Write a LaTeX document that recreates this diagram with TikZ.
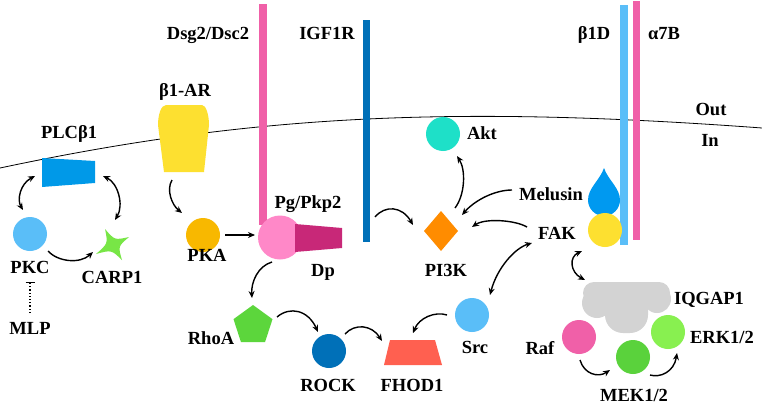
\documentclass[tikz,border=0pt]{standalone}
\usepackage{fontspec}
\setmainfont{Liberation Serif}
\usetikzlibrary{arrows.meta,shapes.geometric}
\definecolor{pinkbar}{RGB}{240,96,168}
\definecolor{darkblue}{RGB}{0,112,184}
\definecolor{lightblue}{RGB}{90,190,248}
\definecolor{plcblue}{RGB}{0,153,232}
\definecolor{yel}{RGB}{253,224,48}
\definecolor{pkaor}{RGB}{248,184,0}
\definecolor{pgpink}{RGB}{255,136,200}
\definecolor{dpmag}{RGB}{200,40,120}
\definecolor{pior}{RGB}{255,140,0}
\definecolor{aktcyan}{RGB}{30,224,200}
\definecolor{melblue}{RGB}{0,153,240}
\definecolor{iqgrey}{RGB}{211,211,211}
\definecolor{mekgreen}{RGB}{90,210,60}
\definecolor{erkgreen}{RGB}{136,240,80}
\definecolor{carpgreen}{RGB}{120,230,70}
\definecolor{rhogreen}{RGB}{92,214,60}
\definecolor{fhodred}{RGB}{255,96,80}
\begin{document}
\begin{tikzpicture}[x=1pt,y=-1pt,
  lbl/.style={font=\bfseries\fontsize{18.5}{18.5}\selectfont,inner sep=0pt,text height=12.2pt,text depth=0pt},
  ball/.style={circle,inner sep=0pt,minimum size=34pt},
  arr/.style={-{Stealth[length=7pt,width=6pt]},line width=1.4pt,black},
  darr/.style={{Stealth[length=7pt,width=6pt]}-{Stealth[length=7pt,width=6pt]},line width=1.4pt,black}]
\useasboundingbox (0,0) rectangle (762,404);
\fill[white] (0,0) rectangle (762,404);
% membrane
\draw[line width=0.8pt] (0,168) .. controls (250,115) and (450,105) .. (762,128);
% bars
\fill[pinkbar] (259,4) rectangle (267,225);
\fill[darkblue] (363,20) rectangle (370,242);
\fill[lightblue] (620,5) rectangle (628,245);
\fill[pinkbar] (633,1) rectangle (640,240);
% labels top
\node[lbl] (ldsg) at (208,33) {Dsg2/Dsc2};
\node[lbl] (ligf) at (327,33) {IGF1R};
\node[lbl] (lb1d) at (594,33) {β1D};
\node[lbl] (la7b) at (664,33) {α7B};
\node[lbl] (lout) at (711,109) {Out};
\node[lbl] (lin) at (710,140) {In};
% beta1-AR
\fill[yel] (166,105) -- (202,105) .. controls (206,105) and (209,115) .. (209,125) -- (204,172) -- (164,172) -- (158,125) .. controls (158,115) and (161,105) .. (166,105);
\node[lbl] (lb1ar) at (185,90) {β1-AR};
% PLC
\fill[plcblue] (42,158) -- (95,161) -- (95,183) -- (42,187) -- cycle;
\node[lbl] (lplc) at (69,132) {PLCβ1};
% PKC
\node[ball,fill=lightblue] (pkc) at (30,234) {};
\node[lbl] (lpkc) at (30,267) {PKC};
% CARP1 star
\fill[carpgreen] (105,229) .. controls (114.6,240.2) .. (129,237) .. controls (118,246.4) .. (122,260) .. controls (111.4,249.8) .. (96,254) .. controls (108,243.6) .. (105,229) -- cycle;
\node[lbl] (lcarp) at (112,277) {CARP1};
\node[lbl] (lmlp) at (30,328) {MLP};
% PKA
\node[ball,fill=pkaor] (pka) at (203,235) {};
\node[lbl] (lpka) at (207,255) {PKA};
% Pg/Pkp2 & Dp
\node[circle,inner sep=0pt,minimum size=44pt,fill=pgpink] (pg) at (280,237.5) {};
\fill[dpmag] (295,224) -- (342,228) -- (342,248) -- (295,252) -- cycle;
\node[lbl] (lpg) at (308,202) {Pg/Pkp2};
\node[lbl] (ldp) at (323,270) {Dp};
% PI3K
\fill[pior] (441,211) -- (458,231) -- (441,251) -- (424,231) -- cycle;
\node[lbl] (lpi3k) at (446,270) {PI3K};
% Akt
\node[ball,fill=aktcyan] (akt) at (443,134) {};
\node[lbl] (lakt) at (482,133) {Akt};
% Melusin drop & FAK
\fill[melblue] (604,168) .. controls (608,180) and (620,188) .. (620,200) arc (0:180:16) .. controls (588,188) and (600,180) .. (604,168);
\node[ball,fill=yel] (fak) at (605,230) {};
\node[lbl] (lmel) at (551,194) {Melusin};
\node[lbl] (lfak) at (557,233) {FAK};
% IQGAP1 (cloud-like)
\fill[iqgrey,rounded corners=11pt] (583,282) rectangle (670,304);
\fill[iqgrey] (597,303) circle (15);
\fill[iqgrey] (657,299) circle (14);
\fill[iqgrey,rounded corners=18pt] (605,288) rectangle (648,333);
\node[lbl] (liq) at (709,298) {IQGAP1};
% Raf MEK ERK
\node[ball,fill=pinkbar] (raf) at (579,337) {};
\node[ball,fill=mekgreen] (mek) at (633,357) {};
\node[ball,fill=erkgreen] (erk) at (668,332) {};
\node[lbl] (lraf) at (540,348) {Raf};
\node[lbl] (lmek) at (634,395) {MEK1/2};
\node[lbl] (lerk) at (722,337) {ERK1/2};
% RhoA ROCK FHOD1 Src
\node[regular polygon,regular polygon sides=5,minimum size=41pt,inner sep=0pt,fill=rhogreen] (rhoa) at (253,325.5) {};
\node[lbl] (lrhoa) at (211,338) {RhoA};
\node[ball,fill=darkblue] (rock) at (329,351) {};
\node[lbl] (lrock) at (328,385) {ROCK};
\fill[fhodred] (390,340) -- (435,340) -- (442,365) -- (384,365) -- cycle;
\node[lbl] (lfhod) at (412,385) {FHOD1};
\node[ball,fill=lightblue] (src) at (472,315) {};
\node[lbl] (lsrc) at (475,347) {Src};
% connector end points
\coordinate (plcL) at (35,176); \coordinate (pkcT) at (23,210);
\coordinate (plcR) at (103,176); \coordinate (carpT) at (115,220);
\coordinate (pkcR) at (48,251); \coordinate (carpL) at (93,252);
\coordinate (mlpT) at (30,313); \coordinate (pkcB) at (30,282);
\coordinate (arB) at (172,180); \coordinate (pkaT) at (182,213);
\coordinate (pkaR) at (225,235); \coordinate (pgL) at (255,235);
\coordinate (dpB) at (272,262); \coordinate (rhoT) at (252,298);
\coordinate (rhoR) at (277,317); \coordinate (rockT) at (318,332);
\coordinate (rockR) at (345,334); \coordinate (fhodT) at (382,341);
\coordinate (srcL) at (447,315); \coordinate (fhodR) at (413,333);
\coordinate (fakB) at (532,243); \coordinate (srcT) at (490,295);
\coordinate (igfR) at (375,217); \coordinate (piL) at (413,225);
\coordinate (piT) at (455,208); \coordinate (aktB) at (457,156);
\coordinate (melL) at (512,190); \coordinate (piTR) at (462,215);
\coordinate (fakL) at (527,227); \coordinate (piR) at (472,227);
\coordinate (fakD) at (582,251); \coordinate (iqT) at (585,280);
\coordinate (rafB) at (580,360); \coordinate (mekL) at (610,370);
\coordinate (mekR) at (650,375); \coordinate (erkB) at (677,353);
% connectors
\draw[darr] (plcL) .. controls (20,184) and (17,200) .. (pkcT);
\draw[darr] (plcR) .. controls (118,183) and (124,205) .. (carpT);
\draw[arr] (pkcR) .. controls (58,262) and (80,264) .. (carpL);
\draw[line width=1.2pt,dotted,-{Bar[width=9pt,line width=1.4pt]}] (mlpT) -- (pkcB);
\draw[arr] (arB) .. controls (166,190) and (172,205) .. (pkaT);
\draw[arr] (pkaR) -- (pgL);
\draw[arr] (dpB) .. controls (258,266) and (251,282) .. (rhoT);
\draw[arr] (rhoR) .. controls (290,306) and (308,310) .. (rockT);
\draw[arr] (rockR) .. controls (355,323) and (372,325) .. (fhodT);
\draw[arr] (srcL) .. controls (435,311) and (419,318) .. (fhodR);
\draw[darr] (fakB) .. controls (515,248) and (497,268) .. (srcT);
\draw[arr] (igfR) .. controls (385,205) and (402,206) .. (piL);
\draw[arr] (piT) .. controls (465,195) and (466,170) .. (aktB);
\draw[arr] (melL) .. controls (495,190) and (475,200) .. (piTR);
\draw[arr] (fakL) .. controls (515,220) and (485,218) .. (piR);
\draw[darr] (fakD) .. controls (569,257) and (570,272) .. (iqT);
\draw[arr] (rafB) .. controls (584,374) and (598,378) .. (mekL);
\draw[arr] (mekR) .. controls (660,378) and (674,372) .. (erkB);
\end{tikzpicture}
\end{document}
